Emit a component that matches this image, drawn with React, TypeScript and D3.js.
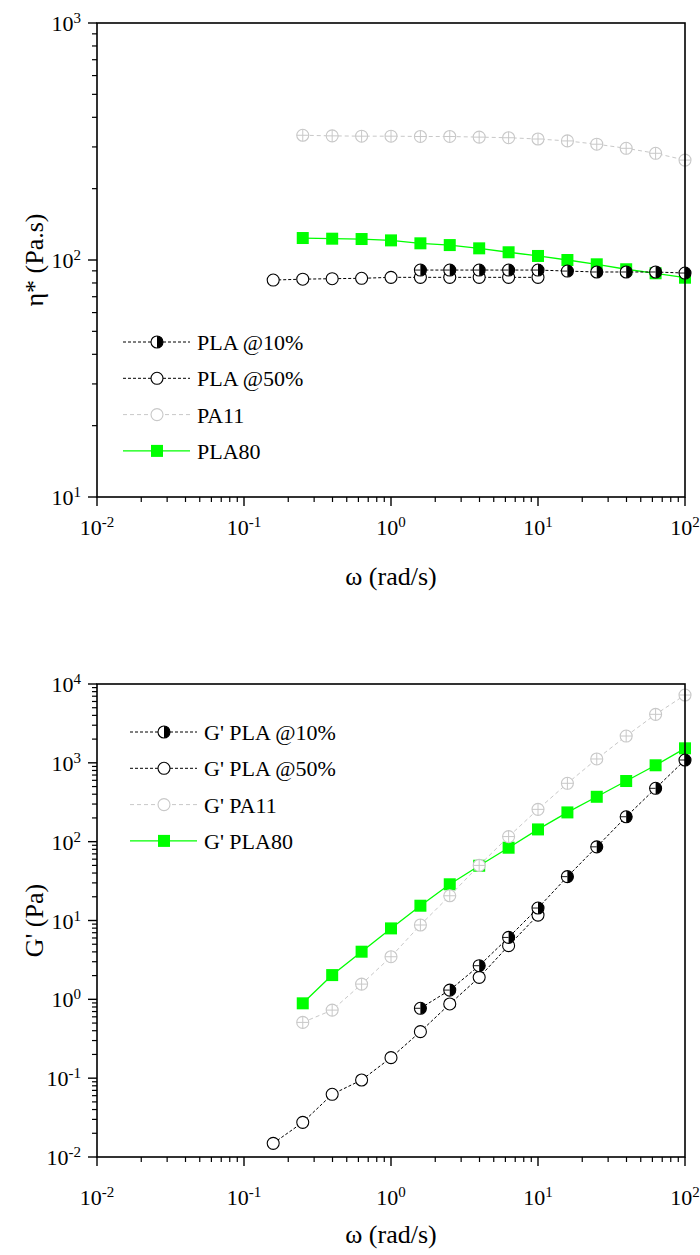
import React from "react";
import * as d3 from "d3";

// frequency grid (rad/s)
const omega = [0.158, 0.251, 0.398, 0.631, 1, 1.585, 2.51, 3.98, 6.31, 10, 15.85, 25.1, 39.8, 63.1, 100];

// top panel: complex viscosity (Pa.s)
const etaPLA10 = [90.7, 90.7, 90.7, 90.7, 90.7, 89.8, 89.0, 89.0, 89.0, 88.1]; // omega[5..14]
const etaPLA50 = [82.3, 83.0, 83.4, 83.7, 84.5, 84.5, 84.5, 84.5, 84.5, 84.5]; // omega[0..9]
const etaPA11 = [336, 334, 333, 333, 332, 332, 330, 328, 324, 318, 308, 296, 282, 264]; // omega[1..14]
const etaPLA80 = [123.8, 123, 122.6, 121, 117.6, 115.6, 112, 107.8, 104, 100, 95.9, 91.4, 87.9, 84.2]; // omega[1..14]

// bottom panel: storage modulus G' (Pa)
const gPLA10 = [0.77, 1.31, 2.67, 6.1, 14.4, 36, 86, 207, 475, 1086]; // omega[5..14]
const gPLA50 = [0.0149, 0.0275, 0.0624, 0.0948, 0.182, 0.389, 0.873, 1.9, 4.8, 11.7]; // omega[0..9]
const gPA11 = [0.51, 0.73, 1.56, 3.47, 8.77, 20.6, 50, 116, 257, 550, 1119, 2188, 4124, 7250]; // omega[1..14]
const gPLA80 = [0.89, 2.03, 4.02, 7.94, 15.4, 28.8, 49.5, 83.8, 143, 235, 371, 588, 931, 1528]; // omega[1..14]

const xTickExps = [-2, -1, 0, 1, 2];
const yTopExps = [1, 2, 3];
const yBotExps = [-2, -1, 0, 1, 2, 3, 4];

const topLegend = ["PLA @10%", "PLA @50%", "PA11", "PLA80"];
const botLegend = ["G' PLA @10%", "G' PLA @50%", "G' PA11", "G' PLA80"];

const FONT = '"Liberation Serif"';
const GREEN = "#00ff00";
const GRAY = "#c8c8c8";

type Kind = "half" | "open" | "cross" | "square";

function Marker({ kind, x, y, legend }: { kind: Kind; x: number; y: number; legend?: boolean }) {
  const r = 6;
  if (kind === "square") {
    return <rect x={x - 6} y={y - 6} width={12} height={12} fill={GREEN} />;
  }
  if (kind === "open") {
    return <circle cx={x} cy={y} r={r} fill="#fff" stroke="#000" strokeWidth={1.1} />;
  }
  if (kind === "cross") {
    return (
      <g>
        <circle cx={x} cy={y} r={r} fill="#fff" stroke={GRAY} strokeWidth={1.1} />
        {!legend && (
          <path d={`M${x - r},${y}H${x + r}M${x},${y - r}V${y + r}`} stroke={GRAY} strokeWidth={1} />
        )}
      </g>
    );
  }
  // half filled (right half black)
  return (
    <g>
      <circle cx={x} cy={y} r={r} fill="#fff" stroke="#000" strokeWidth={1.1} />
      <path d={`M${x},${y - r}A${r},${r} 0 0 1 ${x},${y + r}Z`} fill="#000" />
      {!legend && <path d={`M${x - r},${y}H${x}`} stroke="#000" strokeWidth={0.9} />}
    </g>
  );
}

function Sup({ base, exp }: { base: string; exp: number }) {
  return (
    <>
      {base}
      <tspan dy={-8} style={{ fontFamily: FONT, fontSize: 15 }}>{exp}</tspan>
    </>
  );
}

type Series = { xs: number[]; ys: number[]; kind: Kind; stroke: string; dash?: string; sw: number };

function Panel({
  yDomain,
  yRange,
  yExps,
  series,
  legendLabels,
  legendX,
  legendY0,
  legendDy,
  yTitle,
  xLabelBaseline,
  xTitleBaseline,
}: {
  yDomain: [number, number];
  yRange: [number, number];
  yExps: number[];
  series: Series[];
  legendLabels: string[];
  legendX: number;
  legendY0: number;
  legendDy: number;
  yTitle: string;
  xLabelBaseline: number;
  xTitleBaseline: number;
}) {
  const x = d3.scaleLog().domain([0.01, 100]).range([97, 685]);
  const y = d3.scaleLog().domain(yDomain).range(yRange);
  const [x0, x1] = x.range();
  const yb = yRange[0];
  const yt = yRange[1];

  const xMinor: number[] = [];
  for (let e = -2; e < 2; e++) for (let k = 2; k <= 9; k++) xMinor.push(k * Math.pow(10, e));
  const yMinor: number[] = [];
  for (let e = yExps[0]; e < yExps[yExps.length - 1]; e++)
    for (let k = 2; k <= 9; k++) yMinor.push(k * Math.pow(10, e));

  const line = d3
    .line<[number, number]>()
    .x((d) => x(d[0]))
    .y((d) => y(d[1]));

  const legendSeries = ["half", "open", "cross", "square"].map((k) => series.find((s) => s.kind === k)!);
  const textStyle = { fontFamily: FONT, fontSize: 22 };
  const titleStyle = { fontFamily: FONT, fontSize: 26 };

  return (
    <g>
      {series.map((s, i) => {
        const pts = s.xs.map((xv, j) => [xv, s.ys[j]] as [number, number]);
        return (
          <g key={i}>
            <path d={line(pts) || ""} fill="none" stroke={s.stroke} strokeWidth={s.sw} strokeDasharray={s.dash} />
            {pts.map((p, j) => (
              <Marker key={j} kind={s.kind} x={x(p[0])} y={y(p[1])} />
            ))}
          </g>
        );
      })}

      <rect x={x0} y={yt} width={x1 - x0} height={yb - yt} fill="none" stroke="#000" strokeWidth={1.6} />

      {xTickExps.map((e) => (
        <line key={"xM" + e} x1={x(Math.pow(10, e))} x2={x(Math.pow(10, e))} y1={yb} y2={yb + 9} stroke="#000" strokeWidth={1.4} />
      ))}
      {xMinor.map((v, i) => (
        <line key={"xm" + i} x1={x(v)} x2={x(v)} y1={yb} y2={yb + 5} stroke="#000" strokeWidth={1.2} />
      ))}
      {xTickExps.map((e) => (
        <text key={"xl" + e} x={x(Math.pow(10, e))} y={xLabelBaseline} textAnchor="middle" style={textStyle}>
          <Sup base="10" exp={e} />
        </text>
      ))}

      {yExps.map((e) => (
        <line key={"yM" + e} x1={x0 - 9} x2={x0} y1={y(Math.pow(10, e))} y2={y(Math.pow(10, e))} stroke="#000" strokeWidth={1.4} />
      ))}
      {yMinor.map((v, i) => (
        <line key={"ym" + i} x1={x0 - 5} x2={x0} y1={y(v)} y2={y(v)} stroke="#000" strokeWidth={1.2} />
      ))}
      {yExps.map((e) => (
        <text key={"yl" + e} x={81} y={y(Math.pow(10, e)) + 8} textAnchor="end" style={textStyle}>
          <Sup base="10" exp={e} />
        </text>
      ))}

      <text x={(x0 + x1) / 2} y={xTitleBaseline} textAnchor="middle" style={titleStyle}>
        ω (rad/s)
      </text>
      <text transform={`translate(43,${(yt + yb) / 2}) rotate(-90)`} textAnchor="middle" style={titleStyle}>
        {yTitle}
      </text>

      {legendSeries.map((s, i) => {
        const ly = legendY0 + i * legendDy;
        return (
          <g key={"lg" + i}>
            <line x1={legendX} x2={legendX + 67} y1={ly} y2={ly} stroke={s.stroke} strokeWidth={s.sw} strokeDasharray={s.dash} />
            <Marker kind={s.kind} x={legendX + 34} y={ly} legend />
            <text x={legendX + 74} y={ly + 8} style={textStyle}>
              {legendLabels[i]}
            </text>
          </g>
        );
      })}
    </g>
  );
}

export default function App() {
  const om10 = omega.slice(5);
  const om50 = omega.slice(0, 10);
  const om1 = omega.slice(1);

  const topSeries: Series[] = [
    { xs: om1, ys: etaPLA80, kind: "square", stroke: GREEN, sw: 1.3 },
    { xs: om1, ys: etaPA11, kind: "cross", stroke: GRAY, dash: "4,3", sw: 1 },
    { xs: om50, ys: etaPLA50, kind: "open", stroke: "#000", dash: "3,2", sw: 1 },
    { xs: om10, ys: etaPLA10, kind: "half", stroke: "#000", dash: "3,2", sw: 1 },
  ];
  const botSeries: Series[] = [
    { xs: om1, ys: gPLA80, kind: "square", stroke: GREEN, sw: 1.3 },
    { xs: om1, ys: gPA11, kind: "cross", stroke: GRAY, dash: "4,3", sw: 1 },
    { xs: om50, ys: gPLA50, kind: "open", stroke: "#000", dash: "3,2", sw: 1 },
    { xs: om10, ys: gPLA10, kind: "half", stroke: "#000", dash: "3,2", sw: 1 },
  ];

  return (
    <svg width={700} height={1255} style={{ position: "absolute", left: 0, top: 0, background: "#fff" }}>
      <rect width={700} height={1255} fill="#fff" />
      <Panel
        yDomain={[10, 1000]}
        yRange={[497, 23]}
        yExps={yTopExps}
        series={topSeries}
        legendLabels={topLegend}
        legendX={123}
        legendY0={342}
        legendDy={36.3}
        yTitle="η* (Pa.s)"
        xLabelBaseline={535}
        xTitleBaseline={585}
      />
      <Panel
        yDomain={[0.01, 10000]}
        yRange={[1157, 684]}
        yExps={yBotExps}
        series={botSeries}
        legendLabels={botLegend}
        legendX={130}
        legendY0={732}
        legendDy={36.3}
        yTitle="G' (Pa)"
        xLabelBaseline={1205}
        xTitleBaseline={1243}
      />
    </svg>
  );
}
